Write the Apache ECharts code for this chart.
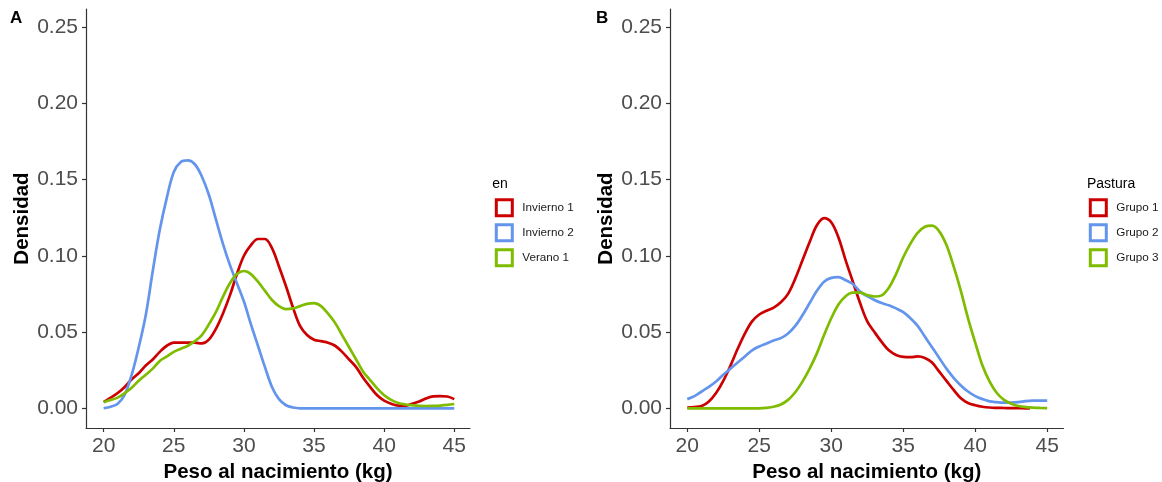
<!DOCTYPE html>
<html>
<head>
<meta charset="utf-8">
<script src="https://cdn.jsdelivr.net/npm/echarts@6/dist/echarts.min.js"></script>
<style>
html,body{margin:0;padding:0;background:#fff;}
#c{width:1162px;height:482px;}
</style>
</head>
<body>
<div id="c"></div>
<script>
// ---- data ----
const peso = [20,20.5,21,21.5,22,22.5,23,23.5,24,24.5,25,25.5,26,26.5,27,27.5,28,28.5,29,29.5,30,30.5,31,31.5,32,32.5,33,33.5,34,34.5,35,35.5,36,36.5,37,37.5,38,38.5,39,39.5,40,40.5,41,41.5,42,42.5,43,43.5,44,44.5,45];
const pesoGrupo1 = [20,20.5,21,21.5,22,22.5,23,23.5,24,24.5,25,25.5,26,26.5,27,27.5,28,28.5,29,29.5,30,30.5,31,31.5,32,32.5,33,33.5,34,34.5,35,35.5,36,36.5,37,37.5,38,38.5,39,39.5,40,40.5,41,41.5,42,42.5,43,43.5,43.8];

// Panel A
const invierno1 = [0.004,0.007,0.010,0.014,0.019,0.023,0.028,0.032,0.037,0.041,0.043,0.043,0.043,0.043,0.0425,0.045,0.052,0.062,0.074,0.088,0.100,0.107,0.111,0.111,0.105,0.093,0.080,0.066,0.054,0.048,0.045,0.044,0.043,0.041,0.037,0.032,0.027,0.020,0.014,0.0085,0.005,0.003,0.0018,0.0018,0.003,0.0045,0.0065,0.0078,0.008,0.0077,0.006];
const invierno2 = [0.000,0.001,0.003,0.009,0.022,0.040,0.061,0.090,0.117,0.138,0.155,0.1615,0.1625,0.160,0.152,0.140,0.124,0.108,0.094,0.082,0.070,0.055,0.041,0.027,0.014,0.006,0.002,0.0005,0,0,0,0,0,0,0,0,0,0,0,0,0,0,0,0,0,0,0,0,0,0,0];
const verano1 = [0.004,0.0055,0.007,0.010,0.0135,0.018,0.022,0.026,0.031,0.034,0.037,0.039,0.041,0.044,0.048,0.055,0.063,0.073,0.082,0.088,0.090,0.088,0.083,0.077,0.071,0.067,0.065,0.0655,0.067,0.0685,0.069,0.067,0.062,0.056,0.048,0.040,0.032,0.024,0.0185,0.013,0.0085,0.0055,0.0035,0.0025,0.002,0.0016,0.0015,0.0016,0.0018,0.0022,0.0028];

// Panel B
const grupo1 = [0.0005,0.0008,0.0015,0.0045,0.010,0.018,0.028,0.039,0.049,0.057,0.0615,0.064,0.066,0.0695,0.075,0.085,0.097,0.109,0.120,0.1247,0.122,0.112,0.097,0.083,0.069,0.057,0.050,0.0435,0.038,0.035,0.0337,0.0335,0.034,0.033,0.030,0.024,0.018,0.012,0.0066,0.0035,0.002,0.001,0.0005,0.0003,0.0002,0.0001,0.0001,0,0];
const grupo2 = [0.006,0.008,0.011,0.014,0.0175,0.022,0.026,0.030,0.034,0.038,0.0405,0.0425,0.0445,0.046,0.049,0.054,0.061,0.069,0.077,0.083,0.0855,0.086,0.084,0.0815,0.0765,0.0735,0.071,0.069,0.0675,0.0655,0.063,0.059,0.054,0.047,0.040,0.033,0.026,0.020,0.015,0.011,0.008,0.006,0.0045,0.004,0.0037,0.0037,0.004,0.0047,0.005,0.005,0.005];
const grupo3 = [0,0,0,0,0,0,0,0,0,0,0,0.0003,0.001,0.0025,0.0055,0.0105,0.0175,0.026,0.036,0.048,0.059,0.068,0.0735,0.0758,0.0758,0.0742,0.0733,0.074,0.079,0.088,0.099,0.108,0.115,0.119,0.1197,0.116,0.107,0.093,0.077,0.059,0.043,0.028,0.0175,0.010,0.0055,0.003,0.0015,0.0008,0.0004,0.0002,0.0001];

const xTicks = [20,25,30,35,40,45];
const yTicks = [0,0.05,0.10,0.15,0.20,0.25];
const namesA = ['Invierno 1','Invierno 2','Verano 1'];
const namesB = ['Grupo 1','Grupo 2','Grupo 3'];
const colors = ['#CC0000','#6495ED','#7FBC00'];

// ---- chart ----
const zip = (xs, ys) => ys.map((v, i) => [xs[i], v]);
const FONT = 'Liberation Sans, Arial, sans-serif';

function xAxisFor(gi, min, max) {
  return {
    type: 'value', gridIndex: gi, min: min, max: max,
    name: 'Peso al nacimiento (kg)', nameLocation: 'middle', nameGap: 32,
    nameTextStyle: { fontFamily: FONT, fontWeight: 'bold', fontSize: 20.5, color: '#000' },
    axisLine: { show: true, onZero: false, lineStyle: { color: '#333', width: 1.2 } },
    axisTick: { show: true, length: 4, customValues: xTicks, lineStyle: { color: '#333', width: 1.2 } },
    axisLabel: { customValues: xTicks, margin: 7.5, fontFamily: FONT, fontSize: 21, color: '#4D4D4D' },
    splitLine: { show: false }
  };
}
function yAxisFor(gi) {
  return {
    type: 'value', gridIndex: gi, min: -0.01293, max: 0.2618,
    name: 'Densidad', nameLocation: 'middle', nameGap: 53,
    nameTextStyle: { fontFamily: FONT, fontWeight: 'bold', fontSize: 20.5, color: '#000' },
    axisLine: { show: true, onZero: false, lineStyle: { color: '#333', width: 1.2 } },
    axisTick: { show: true, length: 4, customValues: yTicks, lineStyle: { color: '#333', width: 1.2 } },
    axisLabel: { customValues: yTicks, margin: 8, fontFamily: FONT, fontSize: 21, color: '#4D4D4D',
      formatter: v => v.toFixed(2) },
    splitLine: { show: false }
  };
}
function lineSeries(name, data, axis, color) {
  return {
    type: 'line', name: name, data: data, xAxisIndex: axis, yAxisIndex: axis,
    showSymbol: false, symbol: 'none', smooth: 0.35,
    lineStyle: { color: color, width: 2.7 }, itemStyle: { color: color },
    emphasis: { disabled: true }, z: 3
  };
}
function legendFor(names, left) {
  return {
    orient: 'vertical', left: left, top: 198.2, padding: 0,
    itemWidth: 16, itemHeight: 16, itemGap: 6,
    selectedMode: false,
    textStyle: { fontFamily: FONT, fontSize: 11.7, color: '#1A1A1A', padding: [0, 0, 0, 5] },
    data: names.map((n, i) => ({ name: n, icon: 'rect',
      itemStyle: { color: '#fff', borderColor: colors[i], borderWidth: 3 } }))
  };
}

const chart = echarts.init(document.getElementById('c'), null, { renderer: 'canvas' });
chart.setOption({
  animation: false,
  backgroundColor: '#fff',
  title: [
    { text: 'A', left: 10, top: 10, textStyle: { fontFamily: FONT, fontWeight: 'bold', fontSize: 17, color: '#000' }, padding: 0 },
    { text: 'B', left: 596, top: 10, textStyle: { fontFamily: FONT, fontWeight: 'bold', fontSize: 17, color: '#000' }, padding: 0 },
    { text: 'en', left: 492.3, top: 177.5, textStyle: { fontFamily: FONT, fontWeight: 'normal', fontSize: 14, color: '#000' }, padding: 0 },
    { text: 'Pastura', left: 1087, top: 177.5, textStyle: { fontFamily: FONT, fontWeight: 'normal', fontSize: 14, color: '#000' }, padding: 0 }
  ],
  legend: [legendFor(namesA, 494.8), legendFor(namesB, 1088.8)],
  grid: [
    { left: 86, right: 692, top: 9, bottom: 54, containLabel: false, outerBoundsMode: 'none' },
    { left: 670, right: 98.5, top: 9, bottom: 54, containLabel: false, outerBoundsMode: 'none' }
  ],
  xAxis: [xAxisFor(0, 18.74, 46.12), xAxisFor(1, 18.80, 46.13)],
  yAxis: [yAxisFor(0), yAxisFor(1)],
  series: [
    lineSeries(namesA[0], zip(peso, invierno1), 0, colors[0]),
    lineSeries(namesA[1], zip(peso, invierno2), 0, colors[1]),
    lineSeries(namesA[2], zip(peso, verano1), 0, colors[2]),
    lineSeries(namesB[0], zip(pesoGrupo1, grupo1), 1, colors[0]),
    lineSeries(namesB[1], zip(peso, grupo2), 1, colors[1]),
    lineSeries(namesB[2], zip(peso, grupo3), 1, colors[2])
  ]
});
</script>
</body>
</html>
